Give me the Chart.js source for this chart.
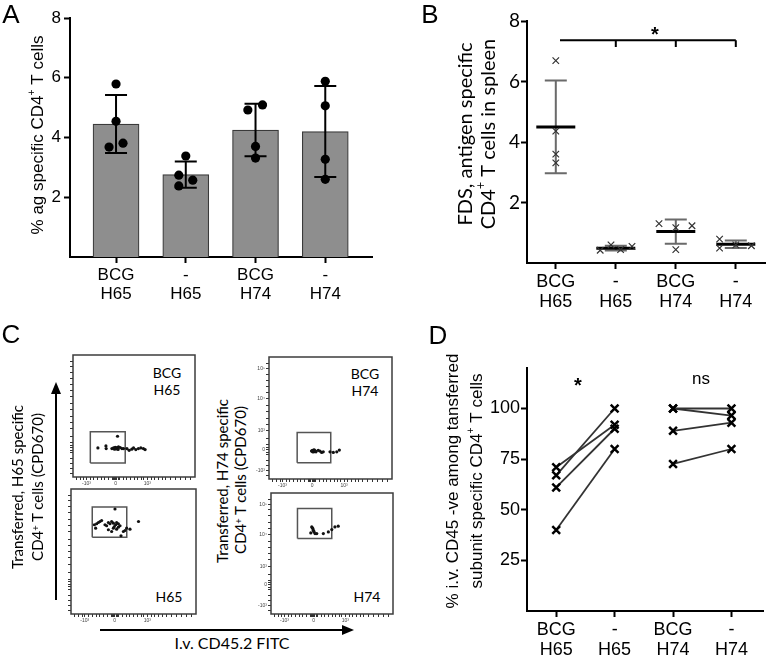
<!DOCTYPE html>
<html>
<head>
<meta charset="utf-8">
<script src="https://cdn.jsdelivr.net/npm/chart.js"></script>
<style>
  html, body { margin: 0; padding: 0; background: #fff; }
  #fig { position: relative; width: 771px; height: 657px; overflow: hidden; font-family: Arial, "Liberation Sans", sans-serif; }
  #fig canvas { position: absolute; }
  .lbl { position: absolute; white-space: nowrap; line-height: 1; transform: translate(-50%, -50%); color: #000; }
  .rot { transform: translate(-50%, -50%) rotate(-90deg); }
  .panel { font-size: 26px; }
  .cal { font-family: Lato, "Open Sans", sans-serif; }
  .sup { font-size: 0.62em; position: relative; top: -0.45em; }
  svg { position: absolute; left: 0; top: 0; }
</style>
</head>
<body>
<div id="fig">
  <canvas id="chartA" width="385" height="320" style="left:0;top:0"></canvas>
  <canvas id="chartB" width="381" height="330" style="left:390px;top:0"></canvas>
  <canvas id="chartD" width="381" height="327" style="left:390px;top:330px"></canvas>

  <div class="lbl panel" style="left:11px;top:14px">A</div>
  <div class="lbl panel" style="left:430px;top:14px">B</div>
  <div class="lbl panel" style="left:11px;top:334px">C</div>
  <div class="lbl panel" style="left:438px;top:335px">D</div>

  <div class="lbl cal" style="left:167px;top:373px;font-size:14px">BCG</div>
  <div class="lbl cal" style="left:167px;top:390px;font-size:14px">H65</div>
  <div class="lbl cal" style="left:365px;top:374px;font-size:14px">BCG</div>
  <div class="lbl cal" style="left:365px;top:391px;font-size:14px">H74</div>
  <div class="lbl cal" style="left:169px;top:597px;font-size:14px">H65</div>
  <div class="lbl cal" style="left:367px;top:597px;font-size:14px">H74</div>
  <div class="lbl cal" style="left:232px;top:643px;font-size:16px">I.v. CD45.2 FITC</div>
  <div class="lbl cal rot" style="left:17px;top:487px;font-size:15px">Transferred, H65 specific</div>
  <div class="lbl cal rot" style="left:37px;top:487px;font-size:15px">CD4<span class="sup">+</span> T cells (CPD670)</div>
  <div class="lbl cal rot" style="left:222px;top:481px;font-size:15px">Transferred, H74 specific</div>
  <div class="lbl cal rot" style="left:240px;top:480px;font-size:15px">CD4<span class="sup">+</span> T cells (CPD670)</div>

  <svg width="771" height="657">
    <line x1="56" y1="600" x2="56" y2="392" stroke="#000" stroke-width="2"/>
    <polygon points="56,382 51,394 61,394" fill="#000"/>
    <line x1="100" y1="630" x2="344" y2="630" stroke="#000" stroke-width="2"/>
    <polygon points="354,630 342,625 342,635" fill="#000"/>
  </svg>
</div>

<script>
// --- DATA ---
const groupTop = ['BCG', '-', 'BCG', '-'];
const groupBottom = ['H65', 'H65', 'H74', 'H74'];

// A: % ag specific CD4+ T cells (bars = mean, whiskers = SD, dots = mice)
const aMean = [4.45, 2.76, 4.25, 4.2];
const aSD = [0.97, 0.44, 0.88, 1.52];
const aDotGroup = [0, 0, 0, 0, 1, 1, 1, 1, 2, 2, 2, 2, 3, 3, 3, 3];
const aDotShift = [0, 0, -0.1, 0.1, 0, -0.1, 0.1, -0.1, -0.11, 0.1, 0, 0, 0, 0, 0, 0];
const aDotValue = [5.79, 4.54, 3.68, 3.81, 3.38, 2.74, 2.57, 2.38, 4.92, 5.09, 3.7, 3.31, 5.88, 5.06, 3.27, 2.6];

// B: FDS, antigen specific CD4+ T cells in spleen
const bMean = [4.5, 0.49, 1.04, 0.62];
const bSD = [1.53, 0.08, 0.4, 0.12];
const bDotGroup = [0, 0, 0, 0, 1, 1, 1, 1, 2, 2, 2, 2, 3, 3, 3, 3];
const bDotShift = [0, 0, 0, 0, -0.26, -0.08, 0.08, 0.27, -0.28, 0, 0.27, 0, -0.27, -0.27, 0, 0.26];
const bDotValue = [6.69, 4.36, 3.6, 3.31, 0.42, 0.6, 0.44, 0.55, 1.3, 1.17, 1.23, 0.44, 0.79, 0.49, 0.6, 0.57];

// D: % i.v. CD45 -ve, paired BCG vs naive
const h65Bcg = [71, 67, 61, 40];
const h65Naive = [92, 100, 90, 80];
const h74Bcg = [100, 100, 89, 72.6];
const h74Naive = [100, 96.5, 93, 80];

// C: flow plots (positions in % of each plot's axis range)
const tlX = [20.4, 27.0, 27.2, 36.5, 31.9, 33.2, 34.6, 36.0, 37.3, 38.7, 40.1, 41.4, 44.2, 46.0, 48.2, 49.6, 51.5, 53.6, 55.6, 57.7, 59.1, 34.0, 35.5, 37.0];
const tlY = [23.8, 25.5, 23.3, 33.4, 23.3, 23.8, 24.4, 24.2, 24.7, 24.2, 23.3, 23.3, 23.3, 21.9, 22.8, 23.8, 22.5, 23.3, 23.8, 23.3, 22.5, 22.8, 23.0, 22.6];
const blX = [35.2, 18.7, 20.5, 21.9, 23.2, 24.5, 19.7, 27.2, 28.5, 29.9, 31.2, 32.5, 33.9, 34.7, 35.7, 36.5, 37.9, 29.9, 32.5, 33.9, 36.5, 37.9, 39.2, 40.0, 41.9, 43.2, 44.5, 47.2, 54.0];
const blY = [84.0, 71.4, 72.2, 73.2, 74.0, 74.8, 68.7, 71.4, 70.6, 73.2, 72.2, 74.0, 72.7, 70.0, 71.4, 73.2, 72.2, 67.4, 66.0, 68.7, 67.9, 69.5, 70.6, 62.6, 66.0, 66.8, 68.7, 67.9, 74.0];
const trX = [34.6, 36.0, 36.5, 37.3, 38.2, 35.5, 40.0, 41.4, 42.8, 44.1, 49.6, 52.3, 55.1, 57.2, 35.0, 36.8, 37.8];
const trY = [22.9, 23.7, 22.3, 23.1, 22.3, 22.3, 23.5, 22.9, 21.8, 22.3, 22.3, 21.8, 22.3, 23.7, 23.3, 23.8, 22.8];
const brX = [33.4, 34.3, 34.7, 35.3, 36.1, 32.6, 37.5, 42.9, 47.0, 49.8, 52.4, 55.1, 33.9, 35.0];
const brY = [72.0, 70.6, 69.2, 67.8, 66.5, 67.0, 66.5, 66.5, 67.8, 69.8, 72.0, 72.6, 71.2, 68.5];
const tlGate = [14.2, 42.8, 11.5, 37.0];
const blGate = [17.0, 44.6, 61.5, 85.6];
const trGate = [22.9, 50.2, 13.3, 38.2];
const brGate = [21.7, 49.8, 62.4, 87.1];

const flowXMajor = [11, 35, 61];
const flowXLabels = ['-10³', '0', '10³'];
const flowXMinor = [3, 6, 9, 14, 17, 20, 23, 26, 29, 32, 33, 34, 36, 37, 38, 41, 44, 47, 50, 53, 56, 58, 64, 67, 70, 73, 76, 80, 84, 88, 92, 96];
const flowYMajor = [7, 24, 39.5, 66, 90.5];
const flowYLabels = ['-10³', '0', '10³', '10⁴', '10⁵'];
const flowYMinor = [3, 11, 15, 20, 22, 26, 28, 33, 45, 50, 55, 60, 71, 76, 81, 86, 95];

Chart.defaults.font.family = 'Arial';
Chart.defaults.color = '#000';

// --- HELPERS ---
function drawRich(ctx, text, cx, cy, size, family, rotate) {
    const parts = text.split('⁺');
    const supSize = size * 0.62;
    ctx.font = `${size}px ${family}`;
    const widths = parts.map(p => ctx.measureText(p).width);
    ctx.font = `${supSize}px ${family}`;
    const supW = ctx.measureText('+').width;
    const total = widths.reduce((a, b) => a + b, 0) + supW * (parts.length - 1);
    ctx.save();
    ctx.translate(cx, cy);
    if (rotate) ctx.rotate(-Math.PI / 2);
    ctx.textBaseline = 'middle';
    ctx.textAlign = 'left';
    ctx.fillStyle = '#000';
    let x = -total / 2;
    parts.forEach((p, i) => {
        ctx.font = `${size}px ${family}`;
        ctx.fillText(p, x, 0);
        x += widths[i];
        if (i < parts.length - 1) {
            ctx.font = `${supSize}px ${family}`;
            ctx.fillText('+', x, -size * 0.36);
            x += supW;
        }
    });
    ctx.restore();
}

function sideTitle(lines, xs, y, size, family) {
    return {
        id: 'sideTitle',
        afterDraw(chart) {
            lines.forEach((line, i) => drawRich(chart.ctx, line, xs[i], y, size, family, true));
        }
    };
}

function catAxis(min, max, fontSize, height) {
    return {
        type: 'linear', min, max, offset: false,
        afterBuildTicks: s => { s.ticks = groupTop.map((_, i) => ({ value: i })); },
        afterFit: s => { s.height = height; },
        ticks: {
            callback: v => [groupTop[v], groupBottom[v]],
            color: '#000', font: { family: 'Arial', size: fontSize, lineHeight: 1.1 },
            maxRotation: 0, autoSkip: false, padding: 3
        },
        grid: { drawOnChartArea: false, offset: false, tickLength: 6, tickWidth: 2, tickColor: '#000' },
        border: { color: '#000', width: 2 }
    };
}

function valAxis(min, max, ticks, width, font, pad) {
    return {
        type: 'linear', min, max,
        afterBuildTicks: s => { s.ticks = ticks.map(v => ({ value: v })); },
        afterFit: s => { s.width = width; },
        ticks: { color: '#000', font, padding: pad, autoSkip: false },
        grid: { drawOnChartArea: false, tickLength: 6, tickWidth: 2, tickColor: '#000' },
        border: { color: '#000', width: 2 }
    };
}

const baseOptions = {
    responsive: false,
    animation: false,
    events: [],
    plugins: { legend: { display: false }, tooltip: { enabled: false } }
};

// --- PANEL A ---
const aErrorBars = {
    id: 'aErrorBars',
    afterDatasetDraw(chart, args) {
        if (args.index !== 0) return;
        const { ctx, scales: { x, y } } = chart;
        ctx.save();
        ctx.strokeStyle = '#000';
        ctx.lineWidth = 2;
        aMean.forEach((m, i) => {
            const px = x.getPixelForValue(i);
            const hi = y.getPixelForValue(m + aSD[i]);
            const lo = y.getPixelForValue(m - aSD[i]);
            ctx.beginPath();
            ctx.moveTo(px, hi); ctx.lineTo(px, lo);
            ctx.moveTo(px - 11, hi); ctx.lineTo(px + 11, hi);
            ctx.moveTo(px - 11, lo); ctx.lineTo(px + 11, lo);
            ctx.stroke();
        });
        ctx.restore();
    }
};

new Chart(document.getElementById('chartA'), {
    type: 'bar',
    data: {
        datasets: [
            {
                type: 'bar',
                data: aMean.map((v, i) => ({ x: i, y: v })),
                backgroundColor: '#8e8e8e', borderColor: '#3a3a3a', borderWidth: 1.2,
                barThickness: 46, order: 2
            },
            {
                type: 'scatter',
                data: aDotValue.map((v, i) => ({ x: aDotGroup[i] + aDotShift[i], y: v })),
                pointRadius: 4.6, pointBackgroundColor: '#000', pointBorderWidth: 0, order: 1
            }
        ]
    },
    options: {
        ...baseOptions,
        layout: { padding: { left: 0, top: 18, right: 13, bottom: 0 } },
        scales: {
            x: catAxis(-0.66, 3.67, 17, 63),
            y: valAxis(0, 8, [2, 4, 6, 8], 70, { family: 'Arial', size: 17 }, 3)
        }
    },
    plugins: [aErrorBars, sideTitle(['% ag specific CD4⁺ T cells'], [38], 135, 17, 'Arial')]
});

// --- PANEL B ---
const bMarks = {
    id: 'bMarks',
    beforeDatasetsDraw(chart) {
        const { ctx, scales: { x, y } } = chart;
        ctx.save();
        bMean.forEach((m, i) => {
            const px = x.getPixelForValue(i);
            const hi = y.getPixelForValue(m + bSD[i]);
            const lo = y.getPixelForValue(m - bSD[i]);
            ctx.strokeStyle = '#6a6a6a';
            ctx.lineWidth = 2;
            ctx.beginPath();
            ctx.moveTo(px, hi); ctx.lineTo(px, lo);
            ctx.moveTo(px - 11, hi); ctx.lineTo(px + 11, hi);
            ctx.moveTo(px - 11, lo); ctx.lineTo(px + 11, lo);
            ctx.stroke();
            const my = y.getPixelForValue(m);
            ctx.strokeStyle = '#000';
            ctx.lineWidth = 3;
            ctx.beginPath();
            ctx.moveTo(px - 19.5, my); ctx.lineTo(px + 19.5, my);
            ctx.stroke();
        });
        // significance bracket: BCG H65 vs the three other groups
        const top = y.getPixelForValue(7.36);
        const drop = y.getPixelForValue(7.14);
        ctx.strokeStyle = '#000';
        ctx.lineWidth = 2;
        ctx.beginPath();
        ctx.moveTo(x.getPixelForValue(0.07), top);
        ctx.lineTo(x.getPixelForValue(3), top);
        [1, 2, 3].forEach(v => {
            ctx.moveTo(x.getPixelForValue(v), top);
            ctx.lineTo(x.getPixelForValue(v), drop);
        });
        ctx.stroke();
        ctx.fillStyle = '#000';
        ctx.font = 'bold 20px Arial';
        ctx.textAlign = 'center';
        ctx.textBaseline = 'alphabetic';
        ctx.fillText('*', x.getPixelForValue(1.65), y.getPixelForValue(7.69) + 11);
        ctx.restore();
    }
};

new Chart(document.getElementById('chartB'), {
    type: 'scatter',
    data: {
        datasets: [{
            data: bDotValue.map((v, i) => ({ x: bDotGroup[i] + bDotShift[i], y: v })),
            pointStyle: 'crossRot', pointRadius: 4.6, borderColor: '#333', pointBorderWidth: 1.2
        }]
    },
    options: {
        ...baseOptions,
        layout: { padding: { left: 0, top: 21, right: 4, bottom: 0 } },
        scales: {
            x: catAxis(-0.48, 3.49, 18, 67),
            y: valAxis(0, 8, [2, 4, 6, 8], 137, { family: 'Lato', size: 19 }, 1)
        }
    },
    plugins: [bMarks, sideTitle(['FDS, antigen specific', 'CD4⁺ T cells in spleen'], [76, 98.5], 134, 20, 'Lato')]
});

// --- PANEL D ---
const dMarks = {
    id: 'dMarks',
    afterDraw(chart) {
        const { ctx, scales: { x, y } } = chart;
        ctx.save();
        ctx.fillStyle = '#000';
        ctx.textAlign = 'center';
        ctx.textBaseline = 'alphabetic';
        ctx.font = 'bold 20px Arial';
        ctx.fillText('*', x.getPixelForValue(0.37), y.getPixelForValue(113.6) + 11);
        ctx.font = '17px Arial';
        ctx.fillText('ns', x.getPixelForValue(2.48), y.getPixelForValue(114.4) + 4.5);
        ctx.restore();
    }
};

const pairSets = [];
h65Bcg.forEach((v, i) => pairSets.push([{ x: 0, y: v }, { x: 1, y: h65Naive[i] }]));
h74Bcg.forEach((v, i) => pairSets.push([{ x: 2, y: v }, { x: 3, y: h74Naive[i] }]));

new Chart(document.getElementById('chartD'), {
    type: 'scatter',
    data: {
        datasets: pairSets.map(d => ({
            data: d, showLine: true, borderColor: '#333', borderWidth: 1.8,
            pointStyle: 'crossRot', pointRadius: 5.5, pointBorderColor: '#000', pointBorderWidth: 2.5
        }))
    },
    options: {
        ...baseOptions,
        layout: { padding: { left: 0, top: 38, right: 1, bottom: 0 } },
        scales: {
            x: catAxis(-0.5, 3.54, 18, 46),
            y: valAxis(0, 120, [25, 50, 75, 100], 137, { family: 'Arial', size: 18 }, 1)
        }
    },
    plugins: [dMarks, sideTitle(['% i.v. CD45 -ve among tansferred', 'subunit specific CD4⁺ T cells'], [63, 87], 151, 17, 'Arial')]
});

// --- PANEL C ---
const frame = {
    id: 'frame',
    afterDatasetsDraw(chart) {
        const { ctx, chartArea: a } = chart;
        ctx.save();
        ctx.strokeStyle = '#3c3c3c';
        ctx.lineWidth = 1.5;
        ctx.strokeRect(a.left, a.top, a.right - a.left, a.bottom - a.top);
        ctx.restore();
    }
};

function flowChart(rect, xs, ys, gate, showYLabels) {
    const [L, T, R, B] = rect;
    const padL = 18, padT = 6, padR = 8, padB = 14;
    const cv = document.createElement('canvas');
    cv.width = R - L + padL + padR;
    cv.height = B - T + padT + padB;
    cv.style.left = (L - padL) + 'px';
    cv.style.top = (T - padT) + 'px';
    document.getElementById('fig').insertBefore(cv, document.querySelector('svg'));

    const box = [
        { x: gate[0], y: gate[2] }, { x: gate[1], y: gate[2] },
        { x: gate[1], y: gate[3] }, { x: gate[0], y: gate[3] }, { x: gate[0], y: gate[2] }
    ];
    const tickGrid = { drawOnChartArea: false, tickLength: 3, tickWidth: 1, tickColor: '#333' };

    new Chart(cv, {
        type: 'scatter',
        data: {
            datasets: [
                {
                    data: xs.map((v, i) => ({ x: v, y: ys[i] })),
                    pointRadius: 1.6, pointBackgroundColor: '#111', pointBorderWidth: 0
                },
                {
                    data: box, showLine: true, borderColor: '#555', borderWidth: 1.5,
                    pointRadius: 0, fill: false
                }
            ]
        },
        options: {
            ...baseOptions,
            layout: { padding: { left: 0, top: padT, right: padR, bottom: 0 } },
            scales: {
                x: {
                    type: 'linear', min: 0, max: 100,
                    afterBuildTicks: s => { s.ticks = flowXMajor.concat(flowXMinor).map(v => ({ value: v })); },
                    afterFit: s => { s.height = padB; },
                    ticks: {
                        callback: v => { const k = flowXMajor.indexOf(v); return k < 0 ? '' : flowXLabels[k]; },
                        font: { size: 5 }, color: '#444', padding: 1, maxRotation: 0, autoSkip: false
                    },
                    grid: tickGrid,
                    border: { display: false }
                },
                y: {
                    type: 'linear', min: 0, max: 100,
                    afterBuildTicks: s => { s.ticks = flowYMajor.concat(flowYMinor).map(v => ({ value: v })); },
                    afterFit: s => { s.width = padL; },
                    ticks: {
                        callback: v => { const k = flowYMajor.indexOf(v); return (k < 0 || !showYLabels) ? '' : flowYLabels[k]; },
                        font: { size: 5 }, color: '#444', padding: 1, autoSkip: false
                    },
                    grid: tickGrid,
                    border: { display: false }
                }
            }
        },
        plugins: [frame]
    });
}

flowChart([73, 355, 195, 477], tlX, tlY, tlGate, false);
flowChart([71, 489, 196, 614], blX, blY, blGate, false);
flowChart([269, 357, 392, 479], trX, trY, trGate, true);
flowChart([271, 493, 393, 614], brX, brY, brGate, true);
</script>
</body>
</html>
